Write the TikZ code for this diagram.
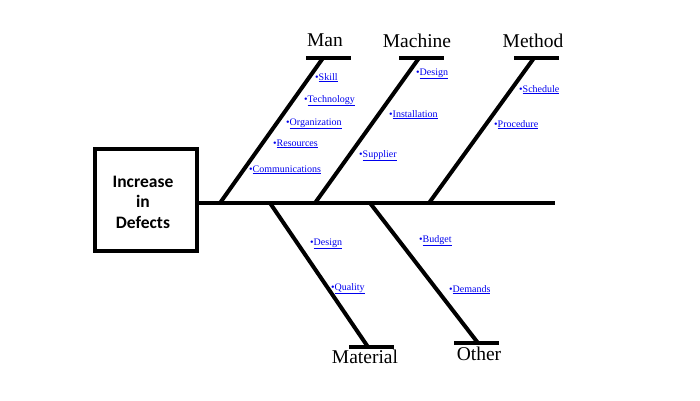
\documentclass[tikz,border=0pt]{standalone}
\usepackage{fontspec}
\setmainfont{Liberation Serif}
\newfontfamily\boxfont{Carlito}
\definecolor{linkblue}{RGB}{0,0,238}
\tikzset{
  bone/.style={line width=4pt},
  cat/.style={anchor=base, inner sep=0pt, font=\fontsize{19.5}{22}\selectfont},
  cause/.style={anchor=base west, inner sep=0pt, text=linkblue, font=\fontsize{10}{12}\selectfont},
  effectbox/.style={draw, line width=4pt, minimum width=102pt, minimum height=102pt, align=center,
    font=\boxfont\bfseries\fontsize{17.5}{20.5}\selectfont, inner sep=0pt}
}
\newcommand{\lk}[1]{\textbullet\underline{#1}}
\begin{document}
\begin{tikzpicture}[x=1pt,y=-1pt]
\useasboundingbox (0,0) rectangle (700,400);
\node[effectbox] (box) at (146,200) {\rule{0pt}{16pt}\hspace*{-6pt}Increase\\\hspace*{-6pt}in\\\hspace*{-6pt}Defects};
\coordinate (spineEnd) at (555,203);
\draw[bone] (box.east |- spineEnd) -- (spineEnd);
% spine points
\coordinate (sMan) at (220,203);
\coordinate (sMach) at (315,203);
\coordinate (sMeth) at (429,203);
\coordinate (sMat) at (270,203);
\coordinate (sOth) at (370,203);
% ends
\coordinate (tMan) at (323,58);
\coordinate (tMach) at (419,58);
\coordinate (tMeth) at (534,58);
\coordinate (tMat) at (368,347);
\coordinate (tOth) at (478,343);
% bars
\coordinate (bManL) at (306,58); \coordinate (bManR) at (351,58);
\coordinate (bMachL) at (399,58); \coordinate (bMachR) at (444,58);
\coordinate (bMethL) at (514,58); \coordinate (bMethR) at (559,58);
\coordinate (bMatL) at (349,347); \coordinate (bMatR) at (394,347);
\coordinate (bOthL) at (454,343); \coordinate (bOthR) at (499,343);
\draw[bone] (sMan) -- (tMan);
\draw[bone] (sMach) -- (tMach);
\draw[bone] (sMeth) -- (tMeth);
\draw[bone] (sMat) -- (tMat);
\draw[bone] (sOth) -- (tOth);
\draw[bone] (bManL) -- (bManR);
\draw[bone] (bMachL) -- (bMachR);
\draw[bone] (bMethL) -- (bMethR);
\draw[bone] (bMatL) -- (bMatR);
\draw[bone] (bOthL) -- (bOthR);
% category labels
\node[cat] (lMan) at (325,46) {Man};
\node[cat] (lMach) at (417,47) {Machine};
\node[cat] (lMeth) at (533,47) {Method};
\node[cat] (lMat) at (365,363) {Material};
\node[cat] (lOth) at (479,360) {Other};
% causes
\node[cause] (c1) at (315,80) {\lk{Skill}};
\node[cause] (c2) at (304,102) {\lk{Technology}};
\node[cause] (c3) at (286,125) {\lk{Organization}};
\node[cause] (c4) at (273,146) {\lk{Resources}};
\node[cause] (c5) at (249,172) {\lk{Communications}};
\node[cause] (c6) at (416,75) {\lk{Design}};
\node[cause] (c7) at (389,117) {\lk{Installation}};
\node[cause] (c8) at (359,157) {\lk{Supplier}};
\node[cause] (c9) at (519,92) {\lk{Schedule}};
\node[cause] (c10) at (494,127) {\lk{Procedure}};
\node[cause] (c11) at (310,245) {\lk{Design}};
\node[cause] (c12) at (331,290) {\lk{Quality}};
\node[cause] (c13) at (419,242) {\lk{Budget}};
\node[cause] (c14) at (449,292) {\lk{Demands}};
\end{tikzpicture}
\end{document}
